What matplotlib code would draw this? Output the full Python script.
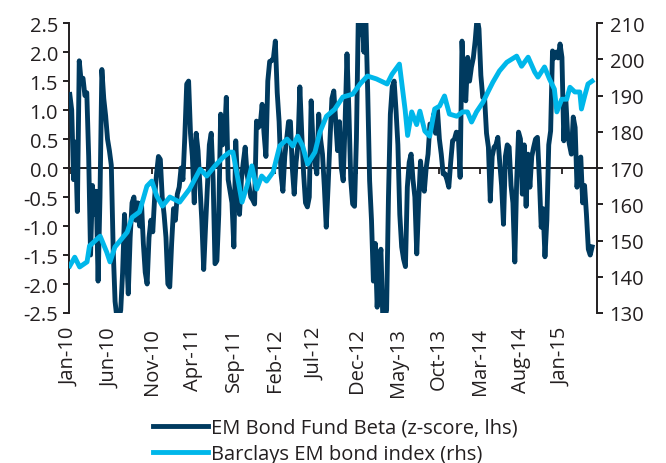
import matplotlib
matplotlib.use('Agg')
import matplotlib.pyplot as plt
import numpy as np

plt.rcParams['font.family'] = ['Open Sans', 'DejaVu Sans']

# EM Bond Fund Beta, weekly z-score from the first week of Jan-10 (lhs)
beta_z = [
    1.27, 1.0, -0.2, 0.45, -0.75, 1.85, 1.5, 1.55, 1.25, 1.3, 0.2, -1.5, -0.3, -0.8, -0.4, -1.95, -0.5,
    1.7, 1.2, 0.9, 0.5, 0.3, 0.05, -1.4, -2.3, -2.6, -2.6, -2.45, -1.8, -0.8, -1.4, -2.17, -1.2, -0.6,
    -0.5, -0.9, -0.6, -1.0, -0.6, -1.3, -1.8, -2.0, -1.2, -0.9, -1.1, -0.5, -0.1, 0.2, 0.15, -0.5, -0.8,
    -1.2, -2.0, -2.05, -1.3, -0.7, -0.9, -0.45, -0.33, 0.0, -0.2, 0.55, 1.45, 1.5, 0.6, 0.2, -0.6, 0.6,
    0.3, -0.3,
    -0.9, -1.75, -1.0, -0.3, 0.4, 0.6, -0.2, -1.65, -1.6, -0.8, 0.93, 0.4, 0.5, 1.22, -0.2, -0.4, -0.6,
    -1.36, 0.47, -0.3, -0.8, -0.2, 0.1, 0.36, -0.1, -0.3, -0.5, -0.55, -0.62, 0.81, 0.7, 0.75, 1.1, 0.6,
    0.2, 1.5, 1.84, 1.85, 1.9, 2.19, 1.3, 0.8, -0.1, -0.4, 0.2, 0.5, 0.8, 0.8, 0.0, -0.45, 0.1, 0.4, 1.4,
    0.6, -0.1, -0.6, -0.67, -0.5, 1.16, 0.4, 0.1, -0.1, 0.93, 0.5, 0.24, -0.33, -1.02, -0.3, 0.5, 1.2,
    1.33, 0.8, 0.3, 0.8, 0.0, -0.22, 0.8, 1.97, 1.0, -0.2, -0.62, -0.66, 0.5, 2.6, 2.3, 2.6, 2.0, 2.6,
    1.3, -0.22, -0.9, -1.95, -1.3, -2.4, -1.7, -1.4, -2.6, -2.6, -2.45, -0.5, 0.93, 1.4, 1.5, 1.0, 0.4,
    -0.8, -1.36,
    -1.57, -1.7, -0.33, 0.1, 0.24, -0.2, -0.5, -1.48, -0.6, 0.12, -0.3, -0.4, 0.0, 0.24, 0.76, 0.7, 0.93,
    0.6, 1.0, 0.5, 0.24, -0.1, -0.1, -0.2, -0.33, 0.1, 0.47, 0.5, 0.62, 0.6, -0.16, 2.19, 1.4, 1.16, 1.91,
    1.5, 1.74, 1.9, 2.2, 2.6, 2.4, 1.6, 1.22, 1.2, 0.6, 0.36, -0.57, 0.2, 0.36, 0.4, 0.53, 0.1,
    -0.3, -0.97, 0.2, 0.4, 0.36, -0.3, -0.6, -1.62, -0.22, 0.62, 0.5, -0.45, 0.4, -0.66, 0.24, -0.33, 0.2,
    0.36, 0.5, 0.53, -0.16, -1.02, -0.7, -1.53, -0.9, 0.4, 0.64, 2.02, 1.9, 2.0, 1.9, 2.14, 1.91, 0.47,
    1.22, 0.6, 0.4, 0.24, 0.88, 0.7, -0.33, 0.1, 0.19, -0.6, -0.3, -0.8, -1.4, -1.5, -1.36,
]

# Barclays EM bond index (rhs), months since Jan-10
index_month = [
    0.0, 0.6, 1.2, 2.1, 2.4, 3.7, 4.5, 4.9, 5.5, 7.0, 7.6, 8.5, 9.4, 10.0, 10.6, 11.3, 12.2, 13.4,
    14.6, 15.9, 16.7, 17.7, 18.7, 19.5, 19.9, 20.5, 21.0, 21.6, 22.2, 22.8, 23.4, 24.0, 24.8, 25.6,
    26.5, 27.2, 27.8, 28.4, 29.0, 29.9, 30.5, 31.3, 32.3, 33.3, 34.5, 35.4, 36.3, 37.4, 38.7, 39.3,
    40.2, 40.9, 41.2, 41.7, 42.3, 42.7, 43.3, 43.9, 44.5, 45.1, 45.7, 46.3, 47.2, 47.9, 48.5, 49.0,
    49.6, 50.4, 51.0, 51.6, 52.4, 53.3, 54.5, 55.1, 55.9, 56.7, 57.1, 57.9, 58.5, 59.1, 59.4, 60.0,
    60.6, 61.0, 61.6, 62.2, 62.4, 62.8, 63.2, 63.7,
]
index_value = [
    143.0, 145.4, 142.7, 144.1, 148.5, 151.2, 146.8, 144.1, 148.2, 152.3, 156.4, 157.9, 165.0, 166.4,
    162.3, 159.5, 162.0, 160.6, 164.2, 169.7, 167.8, 170.6, 173.0, 174.4, 174.4, 167.0, 160.6, 165.0,
    170.6, 164.2, 167.8, 166.4, 168.9, 176.1, 178.0, 176.1, 178.8, 176.1, 171.1, 174.4, 179.9, 184.3,
    186.2, 189.6, 190.4, 193.2, 195.4, 194.6, 193.2, 195.9, 198.7, 186.0, 179.0, 185.5, 182.0, 185.7,
    180.2, 178.8, 186.3, 187.1, 189.9, 184.9, 184.3, 185.5, 185.5, 182.7, 185.5, 188.2, 191.0, 193.7,
    196.8, 199.2, 200.9, 198.1, 200.6, 196.5, 195.1, 197.9, 194.6, 191.8, 185.5, 189.0, 189.0, 192.3,
    191.0, 191.0, 186.3, 189.9, 193.2, 194.0,
]

tick_months = [0, 5, 10, 15, 20, 25, 30, 35, 40, 45, 50, 55, 60]
tick_labels = ['Jan-10', 'Jun-10', 'Nov-10', 'Apr-11', 'Sep-11', 'Feb-12', 'Jul-12',
               'Dec-12', 'May-13', 'Oct-13', 'Mar-14', 'Aug-14', 'Jan-15']

NAVY = '#003a5f'
CYAN = '#00b7ea'
INK = '#231f20'
FS = 14.5

beta_month = np.arange(len(beta_z)) * 12 / 52.18

fig = plt.figure(figsize=(6.66, 4.64), dpi=100)
ax = fig.add_axes([0.1036, 0.3233, 0.7928, 0.6247])
ax2 = ax.twinx()

ax.plot(beta_month, beta_z, color=NAVY, lw=3.5, solid_joinstyle='round',
        label='EM Bond Fund Beta (z-score, lhs)', zorder=3)
ax2.plot(index_month, index_value, color=CYAN, lw=3.5, solid_joinstyle='round',
         label='Barclays EM bond index (rhs)')

ax.set_xlim(-0.1, 64.3)
ax.set_ylim(-2.5, 2.5)
ax2.set_ylim(130, 210)
ax.set_yticks(np.arange(-2.5, 2.51, 0.5))
ax.set_yticklabels([f'{v:.1f}' for v in np.arange(-2.5, 2.51, 0.5)])
ax2.set_yticks(np.arange(130, 211, 10))

# zero line carries the x tick marks; labels sit under the plot
ax.spines['bottom'].set_position(('data', 0))
ax.set_xticks(tick_months)
ax.tick_params(axis='x', direction='out', length=4, width=1.3, color=INK, labelbottom=False)
sec = ax.secondary_xaxis(0.0)
sec.set_xticks(tick_months)
sec.set_xticklabels(tick_labels, rotation=90)
sec.tick_params(length=0, pad=10, labelsize=FS, labelcolor=INK)
sec.spines['bottom'].set_visible(False)

for a in (ax, ax2):
    a.spines['top'].set_visible(False)
    for s in ('left', 'right', 'bottom'):
        a.spines[s].set_color(INK)
        a.spines[s].set_linewidth(1.4)
ax2.spines['bottom'].set_visible(False)
ax.spines['right'].set_visible(False)
ax2.spines['left'].set_visible(False)
ax.tick_params(axis='y', direction='out', length=4, width=1.4, color=INK,
               labelsize=FS, labelcolor=INK, pad=4)
ax2.tick_params(axis='y', direction='out', length=4, width=1.4, color=INK,
                labelsize=FS, labelcolor=INK, pad=5)

h1, l1 = ax.get_legend_handles_labels()
h2, l2 = ax2.get_legend_handles_labels()
fig.legend(h1 + h2, l1 + l2, loc='upper left', bbox_to_anchor=(0.218, 0.115),
           frameon=False, fontsize=FS, handlelength=2.7, handletextpad=0.15,
           labelspacing=0.3, borderaxespad=0, labelcolor=INK)

fig.savefig('out.png', dpi=100)
